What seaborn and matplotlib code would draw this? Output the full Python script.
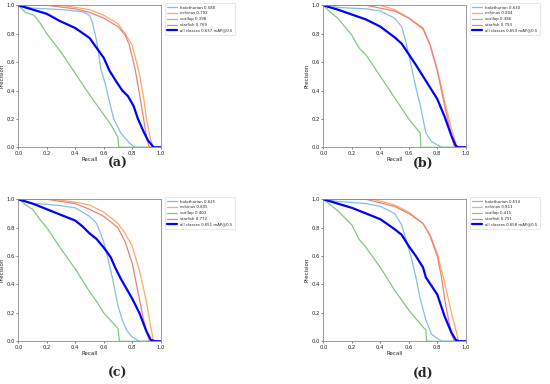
import matplotlib
matplotlib.use("Agg")
import matplotlib.pyplot as plt
import seaborn as sns
import pandas as pd

classes = ["holothurian", "echinus", "scallop", "starfish"]
ap_a = [0.588, 0.792, 0.398, 0.769, 0.637]
ap_b = [0.630, 0.804, 0.386, 0.793, 0.653]
ap_c = [0.625, 0.805, 0.403, 0.772, 0.651]
ap_d = [0.614, 0.811, 0.415, 0.791, 0.658]

# panel (a) curves: recall / precision
a_holo_r = [0, 0.1, 0.3, 0.45, 0.5, 0.52, 0.55, 0.57, 0.58, 0.61, 0.64, 0.67, 0.72, 0.78, 0.82, 1.0]
a_holo_p = [1, 0.98, 0.97, 0.955, 0.93, 0.88, 0.75, 0.62, 0.55, 0.45, 0.32, 0.2, 0.1, 0.03, 0, 0]
a_echi_r = [0, 0.3, 0.4, 0.5, 0.6, 0.7, 0.75, 0.8, 0.85, 0.88, 0.9, 0.93, 0.95, 1.0]
a_echi_p = [1, 1, 0.985, 0.97, 0.93, 0.87, 0.8, 0.72, 0.52, 0.35, 0.2, 0.05, 0, 0]
a_scal_r = [0, 0.03, 0.05, 0.11, 0.15, 0.2, 0.3, 0.4, 0.5, 0.6, 0.65, 0.7, 0.705, 1.0]
a_scal_p = [1, 0.97, 0.95, 0.93, 0.88, 0.8, 0.67, 0.52, 0.37, 0.23, 0.16, 0.07, 0, 0]
a_star_r = [0, 0.2, 0.4, 0.5, 0.6, 0.7, 0.75, 0.78, 0.82, 0.85, 0.88, 0.9, 0.92, 1.0]
a_star_p = [1, 1, 0.975, 0.95, 0.91, 0.85, 0.79, 0.72, 0.55, 0.38, 0.2, 0.07, 0, 0]
a_all_r = [0, 0.1, 0.2, 0.29, 0.4, 0.5, 0.55, 0.6, 0.64, 0.69, 0.73, 0.77, 0.81, 0.84, 0.88, 0.91, 0.95, 1.0]
a_all_p = [1, 0.97, 0.94, 0.89, 0.84, 0.77, 0.7, 0.63, 0.54, 0.46, 0.4, 0.36, 0.29, 0.2, 0.11, 0.05, 0, 0]

# panel (b)
b_holo_r = [0, 0.05, 0.1, 0.3, 0.4, 0.5, 0.55, 0.58, 0.6, 0.62, 0.65, 0.68, 0.7, 0.72, 0.76, 0.83, 1.0]
b_holo_p = [1, 1, 0.985, 0.975, 0.96, 0.91, 0.85, 0.74, 0.65, 0.56, 0.42, 0.3, 0.2, 0.1, 0.04, 0, 0]
b_echi_r = [0, 0.4, 0.5, 0.6, 0.7, 0.75, 0.8, 0.85, 0.9, 0.94, 1.0]
b_echi_p = [1, 1, 0.97, 0.91, 0.83, 0.72, 0.55, 0.33, 0.13, 0, 0]
b_scal_r = [0, 0.05, 0.1, 0.2, 0.25, 0.3, 0.4, 0.5, 0.6, 0.68, 0.685, 1.0]
b_scal_p = [1, 0.95, 0.91, 0.79, 0.7, 0.65, 0.5, 0.35, 0.2, 0.1, 0, 0]
b_star_r = [0, 0.3, 0.5, 0.6, 0.7, 0.75, 0.8, 0.85, 0.9, 0.92, 1.0]
b_star_p = [1, 1, 0.96, 0.91, 0.84, 0.72, 0.54, 0.3, 0.08, 0, 0]
b_all_r = [0, 0.1, 0.2, 0.3, 0.4, 0.5, 0.55, 0.6, 0.65, 0.7, 0.75, 0.8, 0.85, 0.9, 0.93, 0.95, 1.0]
b_all_p = [1, 0.97, 0.935, 0.9, 0.85, 0.775, 0.73, 0.655, 0.58, 0.5, 0.42, 0.34, 0.22, 0.08, 0.01, 0, 0]

# panel (c)
c_holo_r = [0, 0.1, 0.2, 0.3, 0.4, 0.5, 0.55, 0.6, 0.63, 0.66, 0.7, 0.73, 0.76, 0.8, 0.85, 1.0]
c_holo_p = [1, 0.97, 0.965, 0.955, 0.94, 0.88, 0.83, 0.7, 0.58, 0.45, 0.25, 0.15, 0.08, 0.03, 0, 0]
c_echi_r = [0, 0.25, 0.4, 0.5, 0.6, 0.7, 0.75, 0.8, 0.85, 0.9, 0.93, 0.95, 1.0]
c_echi_p = [1, 1, 0.98, 0.96, 0.91, 0.83, 0.76, 0.67, 0.5, 0.28, 0.1, 0, 0]
c_scal_r = [0, 0.03, 0.05, 0.1, 0.15, 0.2, 0.3, 0.4, 0.5, 0.55, 0.6, 0.7, 0.71, 1.0]
c_scal_p = [1, 0.98, 0.96, 0.93, 0.86, 0.8, 0.65, 0.51, 0.35, 0.28, 0.2, 0.09, 0, 0]
c_star_r = [0, 0.2, 0.3, 0.4, 0.5, 0.6, 0.7, 0.75, 0.8, 0.85, 0.88, 0.92, 1.0]
c_star_p = [1, 1, 0.985, 0.97, 0.93, 0.88, 0.8, 0.7, 0.55, 0.3, 0.15, 0, 0]
c_all_r = [0, 0.1, 0.2, 0.3, 0.4, 0.45, 0.5, 0.55, 0.6, 0.65, 0.68, 0.72, 0.8, 0.85, 0.9, 0.93, 0.96, 1.0]
c_all_p = [1, 0.97, 0.93, 0.89, 0.85, 0.81, 0.76, 0.72, 0.66, 0.59, 0.52, 0.44, 0.3, 0.2, 0.07, 0.01, 0, 0]

# panel (d)
d_holo_r = [0, 0.1, 0.3, 0.4, 0.5, 0.55, 0.58, 0.62, 0.65, 0.68, 0.72, 0.76, 0.83, 1.0]
d_holo_p = [1, 0.985, 0.97, 0.95, 0.9, 0.82, 0.72, 0.58, 0.45, 0.3, 0.15, 0.05, 0, 0]
d_echi_r = [0, 0.35, 0.5, 0.6, 0.7, 0.75, 0.8, 0.85, 0.9, 0.95, 1.0]
d_echi_p = [1, 1, 0.96, 0.91, 0.83, 0.75, 0.62, 0.42, 0.2, 0, 0]
d_scal_r = [0, 0.05, 0.1, 0.2, 0.25, 0.3, 0.4, 0.5, 0.6, 0.7, 0.72, 0.725, 1.0]
d_scal_p = [1, 0.96, 0.92, 0.82, 0.72, 0.66, 0.52, 0.36, 0.22, 0.1, 0.08, 0, 0]
d_star_r = [0, 0.3, 0.5, 0.6, 0.7, 0.75, 0.8, 0.83, 0.86, 0.9, 0.92, 1.0]
d_star_p = [1, 1, 0.95, 0.9, 0.83, 0.74, 0.6, 0.45, 0.25, 0.05, 0, 0]
d_all_r = [0, 0.1, 0.2, 0.3, 0.4, 0.5, 0.55, 0.6, 0.65, 0.7, 0.72, 0.8, 0.85, 0.9, 0.93, 0.95, 1.0]
d_all_p = [1, 0.97, 0.94, 0.9, 0.86, 0.79, 0.75, 0.67, 0.6, 0.52, 0.45, 0.33, 0.18, 0.06, 0.01, 0, 0]

panels = {
    "a": [(a_holo_r, a_holo_p), (a_echi_r, a_echi_p), (a_scal_r, a_scal_p), (a_star_r, a_star_p), (a_all_r, a_all_p), ap_a],
    "b": [(b_holo_r, b_holo_p), (b_echi_r, b_echi_p), (b_scal_r, b_scal_p), (b_star_r, b_star_p), (b_all_r, b_all_p), ap_b],
    "c": [(c_holo_r, c_holo_p), (c_echi_r, c_echi_p), (c_scal_r, c_scal_p), (c_star_r, c_star_p), (c_all_r, c_all_p), ap_c],
    "d": [(d_holo_r, d_holo_p), (d_echi_r, d_echi_p), (d_scal_r, d_scal_p), (d_star_r, d_star_p), (d_all_r, d_all_p), ap_d],
}

colors = ["#86bde6", "#ffaa60", "#80c880", "#ec8080"]

sns.set_style("white")
plt.rcParams["font.family"] = ["DejaVu Sans"]

fig = plt.figure(figsize=(5.5, 3.84), dpi=100)

# axes boxes in figure fractions (left, bottom)
boxes = {"a": (0.0333, 0.6164), "b": (0.5879, 0.6164), "c": (0.0333, 0.1112), "d": (0.5879, 0.1112)}
w, h = 0.2589, 0.3698

for key, (left, bottom) in boxes.items():
    ax = fig.add_axes([left, bottom, w, h])
    curves = panels[key]
    ap = curves[5]
    for i, name in enumerate(classes):
        r, p = curves[i]
        df = pd.DataFrame({"Recall": r, "Precision": p})
        sns.lineplot(data=df, x="Recall", y="Precision", ax=ax, color=colors[i],
                     linewidth=0.9, sort=False, label=f"{name} {ap[i]:.3f}")
    r, p = curves[4]
    df = pd.DataFrame({"Recall": r, "Precision": p})
    sns.lineplot(data=df, x="Recall", y="Precision", ax=ax, color="blue",
                 linewidth=1.6, sort=False, label=f"all classes {ap[4]:.3f} mAP@0.5")

    ax.set_xlim(0, 1)
    ax.set_ylim(0, 1)
    ax.set_xticks([0, 0.2, 0.4, 0.6, 0.8, 1.0])
    ax.set_yticks([0, 0.2, 0.4, 0.6, 0.8, 1.0])
    ax.tick_params(labelsize=3.8, length=1.5, width=0.4, pad=1, bottom=True, left=True)
    ax.set_xlabel("Recall", fontsize=4, labelpad=1)
    ax.set_ylabel("Precision", fontsize=4)
    ax.yaxis.set_label_coords(-0.095, 0.5)
    for s in ax.spines.values():
        s.set_color("#8a8a8a")
        s.set_linewidth(0.6)
    leg = ax.legend(bbox_to_anchor=(1.03, 1.014), loc="upper left", borderaxespad=0,
                    fontsize=2.8, handlelength=2.6, handletextpad=0.7, borderpad=0.6,
                    labelspacing=0.45, frameon=True)
    leg.get_frame().set_linewidth(0.4)
    leg.get_frame().set_edgecolor("#cccccc")

    # panel letter below each plot
    cx = 118 / 550 if key in "ac" else 423 / 550
    cy = 1 - (163 / 384) if key in "ab" else 1 - (373 / 384)
    fig.text(cx, cy, f"({key})", ha="center", va="center", fontsize=9,
             fontweight="bold", family="DejaVu Serif")

fig.savefig("out.png", dpi=100)
